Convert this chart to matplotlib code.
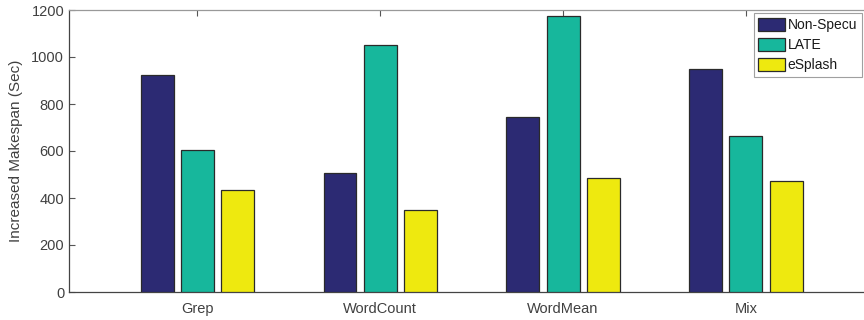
import matplotlib
matplotlib.use("Agg")
import matplotlib.pyplot as plt
import numpy as np

categories = ["Grep", "WordCount", "WordMean", "Mix"]
series_names = ["Non-Specu", "LATE", "eSplash"]
non_specu = [922, 507, 746, 950]
late = [605, 1052, 1176, 665]
esplash = [435, 347, 487, 471]
yticks = [0, 200, 400, 600, 800, 1000, 1200]

colors = ["#2c2a73", "#17b79c", "#eee90f"]

plt.rcParams["font.family"] = ["Liberation Sans", "DejaVu Sans"]

fig = plt.figure(figsize=(8.64, 3.2), dpi=100)
ax = fig.add_axes([69 / 864, 1 - 292 / 320, 1 - 69 / 864 + 0.002, 282 / 320])

x = np.arange(1, len(categories) + 1)
width = 0.18
offset = 0.22
for i, (vals, name) in enumerate(zip([non_specu, late, esplash], series_names)):
    ax.bar(x + (i - 1) * offset, vals, width, color=colors[i], edgecolor="#2a2a2a",
           linewidth=0.9, label=name, zorder=3)

ax.set_xlim(0.298, 4.655)
ax.set_ylim(0, 1200)
ax.set_yticks(yticks)
ax.set_xticks(x)
ax.set_xticklabels(categories)
ax.set_ylabel("Increased Makespan (Sec)", fontsize=11, color="#404040", labelpad=6)

ax.tick_params(axis="both", direction="in", labelsize=10.5, labelcolor="#404040",
               color="#555555", length=4, width=0.8, top=True, right=False)
ax.tick_params(axis="x", pad=7)
for side in ["left", "bottom"]:
    ax.spines[side].set_color("#444444")
    ax.spines[side].set_linewidth(0.9)
ax.spines["top"].set_color("#999999")
ax.spines["top"].set_linewidth(0.9)
ax.spines["right"].set_visible(False)

leg = ax.legend(loc="upper right", bbox_to_anchor=(862 / 864, 1 - 13 / 320),
                bbox_transform=fig.transFigure, fontsize=10, frameon=True,
                fancybox=False, edgecolor="#888888", borderpad=0.35,
                labelspacing=0.42, handlelength=1.9, handleheight=1.05,
                handletextpad=0.2, borderaxespad=0)
leg.get_frame().set_linewidth(0.8)
for t in leg.get_texts():
    t.set_color("#1a1a1a")

fig.savefig("out.png", dpi=100)
